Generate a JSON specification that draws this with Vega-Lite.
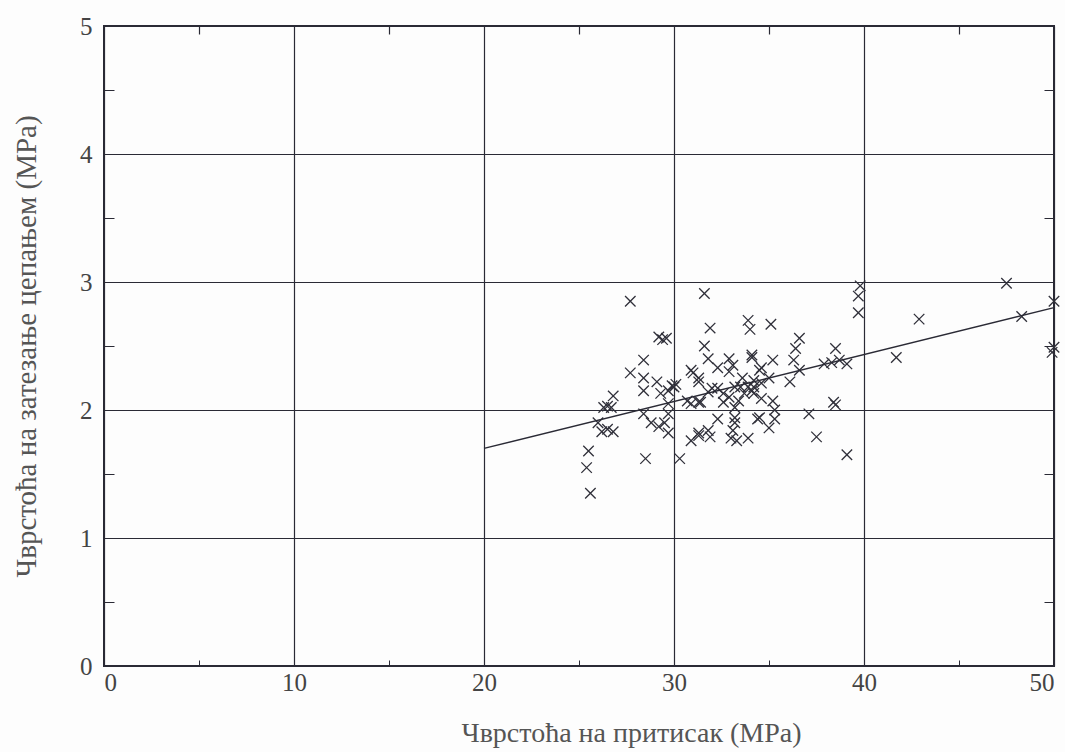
{
  "$schema": "https://vega.github.io/schema/vega-lite/v6.json",
  "width": 950,
  "height": 640,
  "autosize": "none",
  "padding": {"left": 104, "top": 26, "right": 11, "bottom": 86},
  "background": "#fdfdfd",
  "config": {
    "view": {"stroke": "#2a2a35", "strokeWidth": 2},
    "font": "Liberation Serif, DejaVu Serif, serif"
  },
  "datasets": {
    "pts": [
      {"x":25.4,"y":1.55},{"x":25.5,"y":1.68},{"x":25.6,"y":1.35},{"x":26.0,"y":1.90},{"x":26.2,"y":1.83},
      {"x":26.8,"y":1.83},{"x":26.5,"y":1.85},{"x":26.3,"y":2.02},{"x":26.7,"y":2.02},{"x":26.5,"y":2.03},
      {"x":26.8,"y":2.11},{"x":27.7,"y":2.85},{"x":27.7,"y":2.29},{"x":28.4,"y":2.39},{"x":28.4,"y":2.25},
      {"x":28.4,"y":2.15},{"x":28.4,"y":1.97},{"x":28.5,"y":1.62},{"x":28.8,"y":1.90},{"x":29.2,"y":1.87},
      {"x":29.5,"y":1.90},{"x":29.7,"y":1.82},{"x":29.7,"y":1.97},{"x":29.7,"y":2.05},{"x":29.3,"y":2.13},
      {"x":29.7,"y":2.15},{"x":29.9,"y":2.19},{"x":30.1,"y":2.20},{"x":29.2,"y":2.57},{"x":29.6,"y":2.56},
      {"x":29.4,"y":2.55},{"x":30.3,"y":1.62},{"x":30.9,"y":2.31},{"x":31.0,"y":2.29},{"x":31.3,"y":2.25},
      {"x":31.3,"y":2.22},{"x":31.6,"y":2.91},{"x":31.9,"y":2.64},{"x":31.6,"y":2.50},{"x":31.8,"y":2.40},
      {"x":32.3,"y":2.33},{"x":32.9,"y":2.40},{"x":33.1,"y":2.35},{"x":34.1,"y":2.41},{"x":34.1,"y":2.43},
      {"x":33.9,"y":2.70},{"x":34.0,"y":2.63},{"x":30.9,"y":2.05},{"x":30.7,"y":2.07},{"x":31.3,"y":2.06},
      {"x":31.4,"y":2.06},{"x":31.8,"y":2.14},{"x":32.0,"y":2.17},{"x":32.3,"y":2.17},{"x":32.6,"y":2.13},
      {"x":32.9,"y":2.10},{"x":33.2,"y":2.18},{"x":33.5,"y":2.18},{"x":33.7,"y":2.13},{"x":34.1,"y":2.15},
      {"x":34.2,"y":2.18},{"x":34.6,"y":2.21},{"x":34.6,"y":2.33},{"x":34.5,"y":2.31},{"x":32.6,"y":2.06},
      {"x":33.4,"y":2.07},{"x":33.2,"y":2.02},{"x":34.6,"y":2.09},{"x":32.3,"y":1.93},{"x":33.2,"y":1.94},
      {"x":33.2,"y":1.90},{"x":34.5,"y":1.94},{"x":34.4,"y":1.93},{"x":31.8,"y":1.84},{"x":31.3,"y":1.80},
      {"x":31.3,"y":1.82},{"x":30.9,"y":1.76},{"x":31.9,"y":1.79},{"x":33.1,"y":1.84},{"x":33.3,"y":1.76},
      {"x":33.0,"y":1.78},{"x":33.9,"y":1.78},{"x":35.1,"y":2.67},{"x":36.6,"y":2.56},{"x":36.4,"y":2.48},
      {"x":38.5,"y":2.48},{"x":35.2,"y":2.39},{"x":36.3,"y":2.39},{"x":37.9,"y":2.36},{"x":38.3,"y":2.37},
      {"x":38.7,"y":2.39},{"x":39.1,"y":2.36},{"x":36.6,"y":2.31},{"x":36.1,"y":2.22},{"x":35.0,"y":2.25},
      {"x":34.2,"y":2.23},{"x":33.9,"y":2.18},{"x":34.2,"y":2.13},{"x":35.2,"y":2.07},{"x":35.3,"y":2.00},
      {"x":38.4,"y":2.06},{"x":38.5,"y":2.04},{"x":37.1,"y":1.97},{"x":35.3,"y":1.93},{"x":35.0,"y":1.86},
      {"x":37.5,"y":1.79},{"x":39.1,"y":1.65},{"x":39.8,"y":2.97},{"x":39.7,"y":2.89},{"x":39.7,"y":2.76},
      {"x":41.7,"y":2.41},{"x":42.9,"y":2.71},{"x":47.5,"y":2.99},{"x":48.3,"y":2.73},{"x":49.9,"y":2.45},
      {"x":50.0,"y":2.49},{"x":50.0,"y":2.85},{"x":29.1,"y":2.22},{"x":30.0,"y":2.18},{"x":32.9,"y":2.30},
      {"x":33.6,"y":2.25}
    ],
    "fit": [{"x":20,"y":1.70},{"x":50,"y":2.80}]
  },
  "layer": [
    {
      "data": {"name": "pts"},
      "mark": {"type": "point", "shape": "M-1,-1L1,1M1,-1L-1,1", "filled": false, "size": 110, "stroke": "#30303a", "strokeWidth": 1.3, "opacity": 1},
      "encoding": {
        "x": {"field": "x", "type": "quantitative", "scale": {"domain": [0, 50], "nice": false, "zero": false},
          "axis": {"orient": "bottom", "values": [0,5,10,15,20,25,30,35,40,45,50], "grid": true,
            "gridColor": "#2a2a35", "gridWidth": 1.2,
            "gridOpacity": {"condition": {"test": "datum.value % 10 === 0", "value": 1}, "value": 0},
            "domain": false, "ticks": true, "tickSize": -6, "tickColor": "#2a2a35",
            "labelExpr": "datum.value % 10 === 0 ? format(datum.value, 'd') : ''",
            "labelFontSize": 25, "labelColor": "#444", "labelPadding": 10, "labelFont": "Liberation Serif, DejaVu Serif, serif",
            "title": "Чврстоћа на притисак (MPa)", "titleFontSize": 28, "titleFontWeight": "normal", "titleColor": "#555", "titlePadding": 24, "titleX": 527, "titleFont": "Liberation Serif, DejaVu Serif, serif"}},
        "y": {"field": "y", "type": "quantitative", "scale": {"domain": [0, 5], "nice": false, "zero": false},
          "axis": {"orient": "left", "values": [0,0.5,1,1.5,2,2.5,3,3.5,4,4.5,5], "grid": true,
            "gridColor": "#2a2a35", "gridWidth": 1.2,
            "gridOpacity": {"condition": {"test": "datum.value % 1 === 0", "value": 1}, "value": 0},
            "domain": false, "ticks": true, "tickSize": -10, "tickColor": "#2a2a35",
            "labelExpr": "datum.value % 1 === 0 ? format(datum.value, 'd') : ''",
            "labelFontSize": 25, "labelColor": "#444", "labelPadding": 22, "labelFont": "Liberation Serif, DejaVu Serif, serif",
            "title": "Чврстоћа на затезање цепањем (MPa)", "titleFontSize": 29, "titleFontWeight": "normal", "titleColor": "#555", "titlePadding": 38, "titleFont": "Liberation Serif, DejaVu Serif, serif"}}
      }
    },
    {
      "data": {"name": "fit"},
      "mark": {"type": "line", "color": "#2a2a35", "strokeWidth": 1.4},
      "encoding": {
        "x": {"field": "x", "type": "quantitative",
          "axis": {"orient": "top", "values": [5,15,25,35,45], "grid": false, "domain": false, "labels": false, "ticks": true, "tickSize": -8, "tickWidth": 1.2, "tickColor": "#2a2a35", "title": null}},
        "y": {"field": "y", "type": "quantitative",
          "axis": {"orient": "right", "values": [0.5,1.5,2.5,3.5,4.5], "grid": false, "domain": false, "labels": false, "ticks": true, "tickSize": -10, "tickColor": "#2a2a35", "title": null}}
      }
    }
  ],
  "resolve": {"axis": {"x": "independent", "y": "independent"}}
}
